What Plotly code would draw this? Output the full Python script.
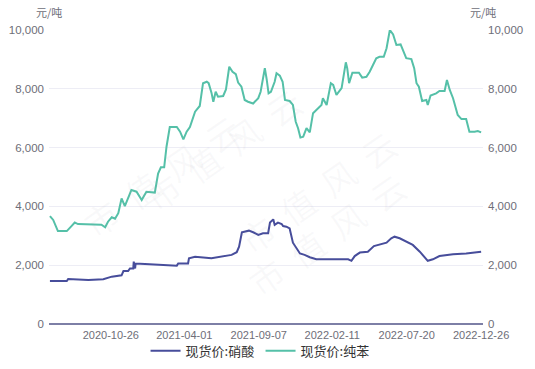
import plotly.graph_objects as go

# 现货价:纯苯 (元/吨)
benzene_dates = [
    "2020-06-18", "2020-06-25", "2020-07-05", "2020-07-24", "2020-08-03", "2020-08-10",
    "2020-08-17", "2020-09-07", "2020-10-06", "2020-10-14", "2020-10-20", "2020-10-28",
    "2020-11-04", "2020-11-11", "2020-11-18", "2020-11-25", "2020-12-02", "2020-12-09",
    "2020-12-20", "2020-12-31", "2021-01-10", "2021-01-28", "2021-02-04", "2021-02-10",
    "2021-02-17", "2021-02-22", "2021-03-01", "2021-03-16", "2021-03-23", "2021-03-30",
    "2021-04-06", "2021-04-13", "2021-04-24", "2021-05-04", "2021-05-11", "2021-05-19",
    "2021-05-23", "2021-05-29", "2021-06-02", "2021-06-07", "2021-06-12", "2021-06-23",
    "2021-06-29", "2021-07-06", "2021-07-13", "2021-07-20", "2021-07-25", "2021-08-01",
    "2021-08-08", "2021-08-15", "2021-08-26", "2021-09-06", "2021-09-11", "2021-09-16",
    "2021-09-20", "2021-09-24", "2021-09-28", "2021-10-03", "2021-10-11", "2021-10-15",
    "2021-10-22", "2021-10-28", "2021-11-02", "2021-11-12", "2021-11-19", "2021-11-25",
    "2021-11-30", "2021-12-05", "2021-12-11", "2021-12-18", "2021-12-25", "2022-01-01",
    "2022-01-08", "2022-01-19", "2022-01-22", "2022-01-30", "2022-02-08", "2022-02-13",
    "2022-02-20", "2022-03-03", "2022-03-12", "2022-03-15", "2022-03-19", "2022-03-26",
    "2022-04-09", "2022-04-16", "2022-04-25", "2022-05-02", "2022-05-09", "2022-05-16",
    "2022-05-23", "2022-06-01", "2022-06-07", "2022-06-14", "2022-06-21", "2022-06-28",
    "2022-07-07", "2022-07-12", "2022-07-19", "2022-07-30", "2022-08-05", "2022-08-10",
    "2022-08-15", "2022-08-22", "2022-08-31", "2022-09-03", "2022-09-09", "2022-09-21",
    "2022-09-28", "2022-10-09", "2022-10-14", "2022-10-20", "2022-10-27", "2022-11-06",
    "2022-11-14", "2022-11-24", "2022-12-01", "2022-12-12", "2022-12-19", "2022-12-26",
]
benzene_values = [
    3670, 3540, 3160, 3160, 3330, 3450,
    3400, 3400, 3380, 3290, 3480, 3630,
    3580, 3770, 4270, 4010, 4270, 4560,
    4500, 4220, 4500, 4470, 5120, 5330,
    5330, 6030, 6700, 6700, 6540, 6280,
    6540, 6700, 7220, 7415, 8190, 8240,
    8190, 7870, 7560, 7900, 7730, 7755,
    7980, 8750, 8580, 8500, 8210, 8070,
    7620, 7560, 7500, 7680, 7900, 8410,
    8700, 8320, 7845, 7900, 8240, 8530,
    8450, 8240, 7620, 7585, 7450, 6880,
    6660, 6340, 6370, 6660, 6520, 7170,
    7280, 7450, 7680, 7450, 8190, 8130,
    7790, 8020, 8900, 8700, 8190, 8550,
    8550, 8380, 8410, 8580, 8810, 9040,
    9090, 9090, 9380, 10000, 9850, 9490,
    9510, 9320, 9040, 9010, 8700, 8190,
    8070, 7585, 7620, 7450, 7770, 7845,
    7925, 7925, 8300, 7960, 7680, 7110,
    6970, 6970, 6540, 6540, 6565, 6520,
]

# 现货价:硝酸 (元/吨)
nitric_dates = [
    "2020-06-18", "2020-07-24", "2020-07-27", "2020-08-18", "2020-09-08", "2020-10-10",
    "2020-10-28", "2020-11-18", "2020-11-22", "2020-12-02", "2020-12-06", "2020-12-13",
    "2020-12-14", "2020-12-17", "2020-12-18", "2021-01-07", "2021-02-11", "2021-03-16",
    "2021-03-19", "2021-04-09", "2021-04-11", "2021-04-24", "2021-05-29", "2021-06-27",
    "2021-07-11", "2021-07-22", "2021-07-27", "2021-08-02", "2021-08-17", "2021-08-26",
    "2021-09-06", "2021-09-16", "2021-09-27", "2021-10-01", "2021-10-08", "2021-10-11",
    "2021-10-18", "2021-10-26", "2021-10-29", "2021-11-05", "2021-11-12", "2021-11-19",
    "2021-11-27", "2021-12-04", "2021-12-14", "2021-12-25", "2022-01-08", "2022-03-17",
    "2022-03-24", "2022-03-31", "2022-04-11", "2022-04-28", "2022-05-11", "2022-05-23",
    "2022-06-07", "2022-06-17", "2022-06-24", "2022-07-05", "2022-07-19", "2022-08-02",
    "2022-08-17", "2022-08-31", "2022-09-03", "2022-09-14", "2022-09-28", "2022-10-27",
    "2022-11-24", "2022-12-26",
]
nitric_values = [
    1460, 1460, 1530, 1510, 1500, 1520,
    1610, 1655, 1800, 1800, 1890, 1890,
    2120, 1890, 2060, 2040, 2010, 1985,
    2060, 2060, 2235, 2290, 2235, 2310,
    2350, 2440, 2630, 3120, 3175, 3120,
    3030, 3085, 3085, 3450, 3560, 3370,
    3450, 3400, 3330, 3310, 3250, 2765,
    2575, 2400, 2350, 2270, 2200, 2200,
    2150, 2310, 2430, 2460, 2650, 2690,
    2765, 2915, 2970, 2915, 2800, 2690,
    2460, 2200, 2150, 2200, 2310, 2370,
    2400, 2460,
]

x_tick_vals = ["2020-10-26", "2021-04-01", "2021-09-07", "2022-02-11", "2022-07-20", "2022-12-26"]
y_tick_vals = [0, 2000, 4000, 6000, 8000, 10000]
y_tick_text = ["0", "2,000", "4,000", "6,000", "8,000", "10,000"]

BLUE = "#474d9b"
GREEN = "#55c0a8"
TICK = "#6e6e78"
FONT = "Liberation Sans, Arial, sans-serif"

fig = go.Figure()
fig.add_trace(go.Scatter(
    x=nitric_dates, y=nitric_values, name="现货价:硝酸", mode="lines",
    line=dict(color=BLUE, width=2), yaxis="y",
))
fig.add_trace(go.Scatter(
    x=benzene_dates, y=benzene_values, name="现货价:纯苯", mode="lines",
    line=dict(color=GREEN, width=2), yaxis="y2",
))

# faint watermark
for (wx, wy) in [(0.40, 0.85), (0.62, 0.45), (0.05, 0.25), (0.85, 0.05)]:
    fig.add_annotation(
        text="市  值  风  云", xref="paper", yref="paper", x=wx, y=wy,
        showarrow=False, textangle=-35,
        font=dict(size=34, color="rgba(150,150,160,0.06)", family="Noto Sans CJK SC"),
    )

fig.add_annotation(text="元/吨", xref="paper", yref="paper", x=0.0, y=1.0,
                   yshift=8, xanchor="center", yanchor="bottom", showarrow=False,
                   font=dict(size=11, color=TICK, family="Noto Sans CJK SC"))
fig.add_annotation(text="元/吨", xref="paper", yref="paper", x=1.0, y=1.0,
                   yshift=8, xanchor="center", yanchor="bottom", showarrow=False,
                   font=dict(size=11, color=TICK, family="Noto Sans CJK SC"))

fig.update_layout(
    width=535, height=369,
    margin=dict(l=49, r=52, t=30, b=45, autoexpand=False),
    paper_bgcolor="white", plot_bgcolor="white",
    font=dict(family=FONT, size=11, color=TICK),
    showlegend=True,
    legend=dict(orientation="h", xref="container", x=0.487, xanchor="center",
                yref="container", y=0.049, yanchor="middle",
                bgcolor="rgba(0,0,0,0)",
                font=dict(size=13, color="#333333", family="Noto Sans CJK SC"),
                entrywidth=70, entrywidthmode="pixels"),
    xaxis=dict(
        type="date", range=["2020-06-16", "2022-12-30"],
        tickvals=x_tick_vals, ticktext=x_tick_vals,
        showgrid=False, zeroline=False, showline=False, ticks="",
        tickfont=dict(size=11, color=TICK), ticklabelstandoff=3,
    ),
    yaxis=dict(
        range=[0, 10000], tickvals=y_tick_vals, ticktext=y_tick_text,
        showgrid=True, gridcolor="#ededf5", gridwidth=1,
        zeroline=True, zerolinecolor="#7d7fa6", zerolinewidth=2,
        showline=False, ticks="", tickfont=dict(size=11.5, color=TICK),
        ticklabelstandoff=4,
    ),
    yaxis2=dict(
        range=[0, 10000], tickvals=y_tick_vals, ticktext=y_tick_text,
        overlaying="y", side="right", showgrid=False, zeroline=False,
        showline=False, ticks="", tickfont=dict(size=11.5, color=TICK),
        ticklabelstandoff=4,
    ),
)

fig.write_html("out.html", config={"displayModeBar": False},
               post_script="document.body.style.margin='0';")
